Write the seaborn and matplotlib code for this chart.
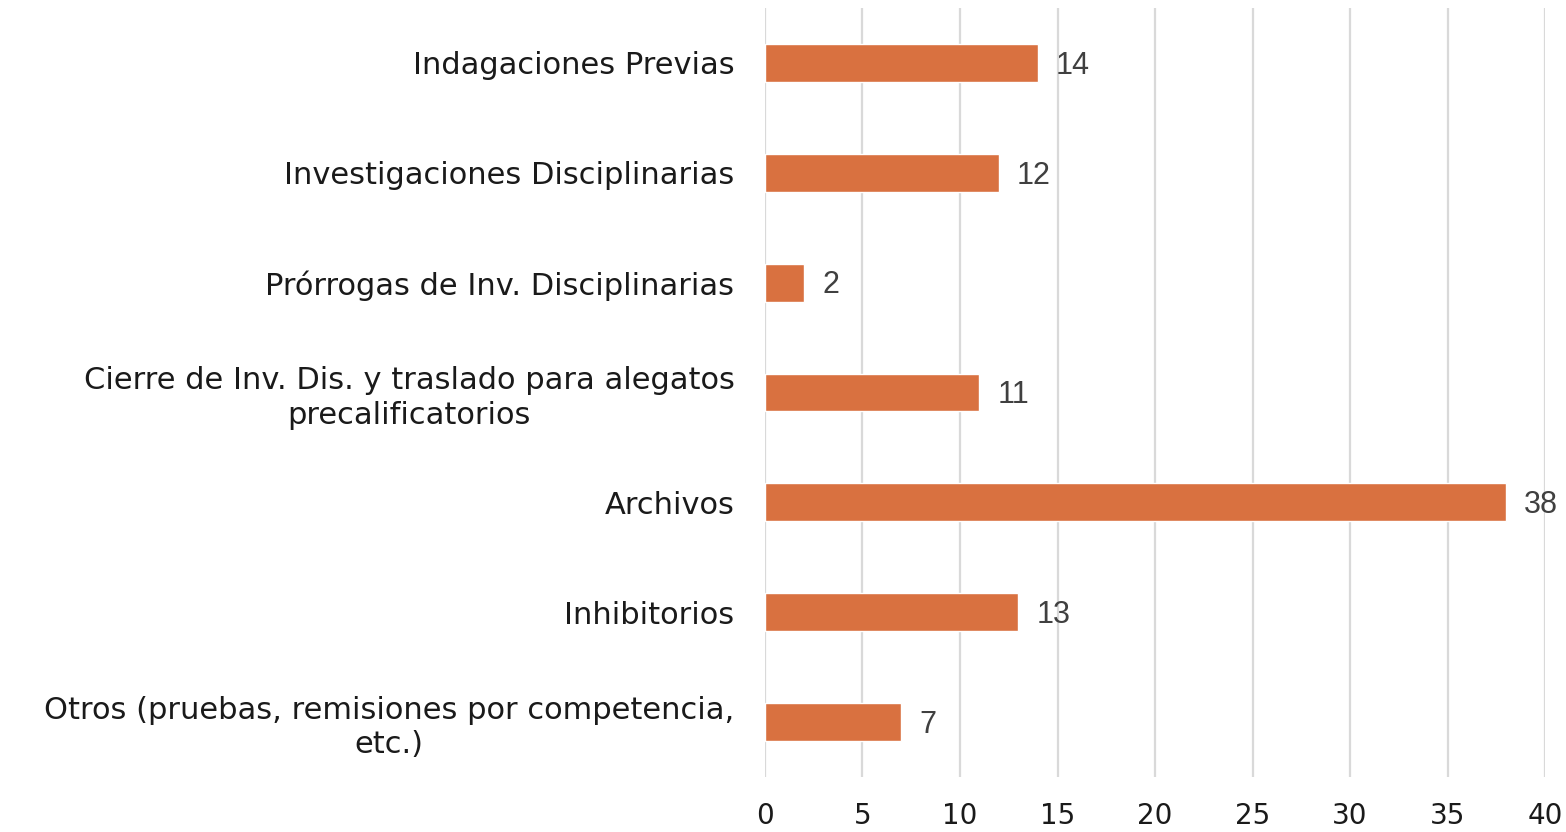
import pandas as pd
import matplotlib.pyplot as plt
import seaborn as sns

categorias = [
    "Indagaciones Previas",
    "Investigaciones Disciplinarias",
    "Prórrogas de Inv. Disciplinarias",
    "Cierre de Inv. Dis. y traslado para alegatos\nprecalificatorios",
    "Archivos",
    "Inhibitorios",
    "Otros (pruebas, remisiones por competencia,\netc.)",
]
valores = [14, 12, 2, 11, 38, 13, 7]

df = pd.DataFrame({"categoria": categorias, "valor": valores})

sns.set_style("white")
plt.rcParams["font.family"] = ["DejaVu Sans"]

fig = plt.figure(figsize=(15.66, 8.32), dpi=100)
ax = fig.add_axes([0.4885, 0.0661, 0.4981, 0.9243])

sns.barplot(data=df, x="valor", y="categoria", orient="h", color="#D97140",
            saturation=1, width=0.345, ax=ax, zorder=3)

ax.set_xlim(0, 40)
ax.set_xticks(range(0, 41, 5))
ax.grid(axis="x", color="#D9D9D9", linewidth=1.6, zorder=0)
ax.set_axisbelow(True)
for s in ax.spines.values():
    s.set_visible(False)
ax.set_xlabel("")
ax.set_ylabel("")
ax.tick_params(axis="x", length=0, pad=18, labelsize=20, labelcolor="#1a1a1a")
ax.tick_params(axis="y", length=0, pad=22, labelsize=22, labelcolor="#1a1a1a")
for lbl in ax.get_yticklabels():
    lbl.set_multialignment("center")
    lbl.set_linespacing(1.22)

for i, v in enumerate(valores):
    ax.annotate(str(v), (v, i), xytext=(13, -2), textcoords="offset points",
                va="center", ha="left", fontsize=22, color="#404040",
                family="Liberation Sans")

fig.savefig("out.png", dpi=100)
